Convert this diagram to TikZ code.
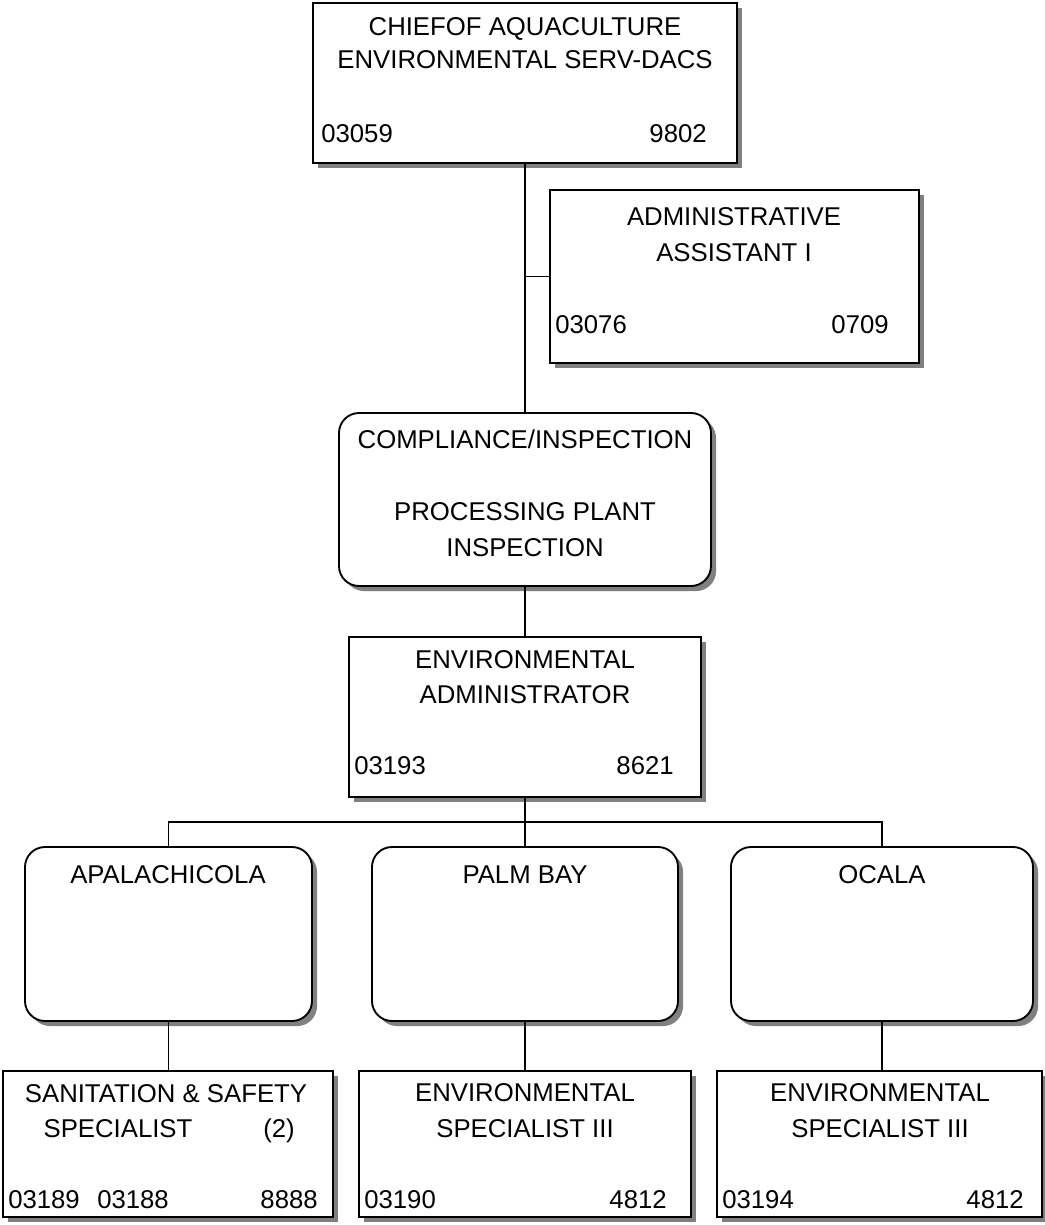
\documentclass[tikz,border=0pt]{standalone}
\usepackage{fontspec}
\setmainfont{Liberation Sans}
\usetikzlibrary{fit,shadows}
\begin{document}
\begin{tikzpicture}[x=0.75pt,y=-0.75pt,
  box/.style={draw=black,line width=1.4pt,fill=white,inner sep=0pt,
    drop shadow={shadow xshift=3.8pt,shadow yshift=-3.8pt,fill=black!50,opacity=1}},
  sqbox/.style={box,rectangle},
  rbox/.style={box,rectangle,rounded corners=15pt},
  txt/.style={font=\fontsize{19.3}{27}\selectfont,inner sep=0pt,anchor=base},
  num/.style={txt,anchor=base west},
  numr/.style={txt,anchor=base east},
  link/.style={line width=1.4pt}]
\useasboundingbox (0,0) rectangle (1045,1225);

\coordinate (bus) at (525,822);

% boxes
\node[sqbox,fit={(313,3) (737,163)}] (chief) {};
\node[sqbox,fit={(550,190) (919,363)}] (admin) {};
\node[rbox,fit={(339,413) (711,586)}] (comp) {};
\node[sqbox,fit={(349,637) (701,797)}] (envadm) {};
\node[rbox,fit={(25,847) (312,1021)}] (apa) {};
\node[rbox,fit={(372,847) (678,1021)}] (palm) {};
\node[rbox,fit={(731,847) (1033,1021)}] (ocala) {};
\node[sqbox,fit={(3,1071) (333,1217)}] (san) {};
\node[sqbox,fit={(359,1071) (691,1217)}] (es1) {};
\node[sqbox,fit={(717,1071) (1042,1217)}] (es2) {};

% connectors
\draw[link] (chief.south) -- (comp.north);
\draw[link] (admin.west) -- (admin.west -| chief.south);
\draw[link] (comp.south) -- (envadm.north);
\draw[link] (envadm.south) -- (bus);
\draw[link] (apa.north) |- (bus) -| (ocala.north);
\draw[link] (bus) -- (palm.north);
\draw[link] (apa.south) -- (apa.south |- san.north);
\draw[link] (palm.south) -- (palm.south |- es1.north);
\draw[link] (ocala.south) -- (ocala.south |- es2.north);

% chief
\node[txt] (chief1) at (525,35) {CHIEFOF AQUACULTURE};
\node[txt] (chief2) at (525,68) {ENVIRONMENTAL SERV-DACS};
\node[num] (chiefn) at (321,142) {03059};
\node[numr] (chiefc) at (707,142) {9802};

% administrative assistant
\node[txt] (admin1) at (734,225) {ADMINISTRATIVE};
\node[txt] (admin2) at (734,261) {ASSISTANT I};
\node[num] (adminn) at (555,333) {03076};
\node[numr] (adminc) at (889,333) {0709};

% compliance / inspection
\node[txt] (comp1) at (525,448) {COMPLIANCE/INSPECTION};
\node[txt] (comp2) at (525,520) {PROCESSING PLANT};
\node[txt] (comp3) at (525,556) {INSPECTION};

% environmental administrator
\node[txt] (envadm1) at (525,668) {ENVIRONMENTAL};
\node[txt] (envadm2) at (525,703) {ADMINISTRATOR};
\node[num] (envadmn) at (354,774) {03193};
\node[numr] (envadmc) at (674,774) {8621};

% regional offices
\node[txt] (apa1) at (168,883) {APALACHICOLA};
\node[txt] (palm1) at (525,883) {PALM BAY};
\node[txt] (ocala1) at (882,883) {OCALA};

% sanitation & safety specialist
\node[txt] (san1) at (166,1102) {SANITATION \& SAFETY};
\node[txt] (san2) at (118,1137) {SPECIALIST};
\node[txt] (san3) at (279,1137) {(2)};
\node[num] (sann1) at (8,1208) {03189};
\node[num] (sann2) at (97,1208) {03188};
\node[numr] (sanc) at (318,1208) {8888};

% environmental specialist III (Palm Bay)
\node[txt] (es11) at (525,1101) {ENVIRONMENTAL};
\node[txt] (es12) at (525,1137) {SPECIALIST III};
\node[num] (es1n) at (364,1208) {03190};
\node[numr] (es1c) at (667,1208) {4812};

% environmental specialist III (Ocala)
\node[txt] (es21) at (880,1101) {ENVIRONMENTAL};
\node[txt] (es22) at (880,1137) {SPECIALIST III};
\node[num] (es2n) at (722,1208) {03194};
\node[numr] (es2c) at (1024,1208) {4812};
\end{tikzpicture}
\end{document}
